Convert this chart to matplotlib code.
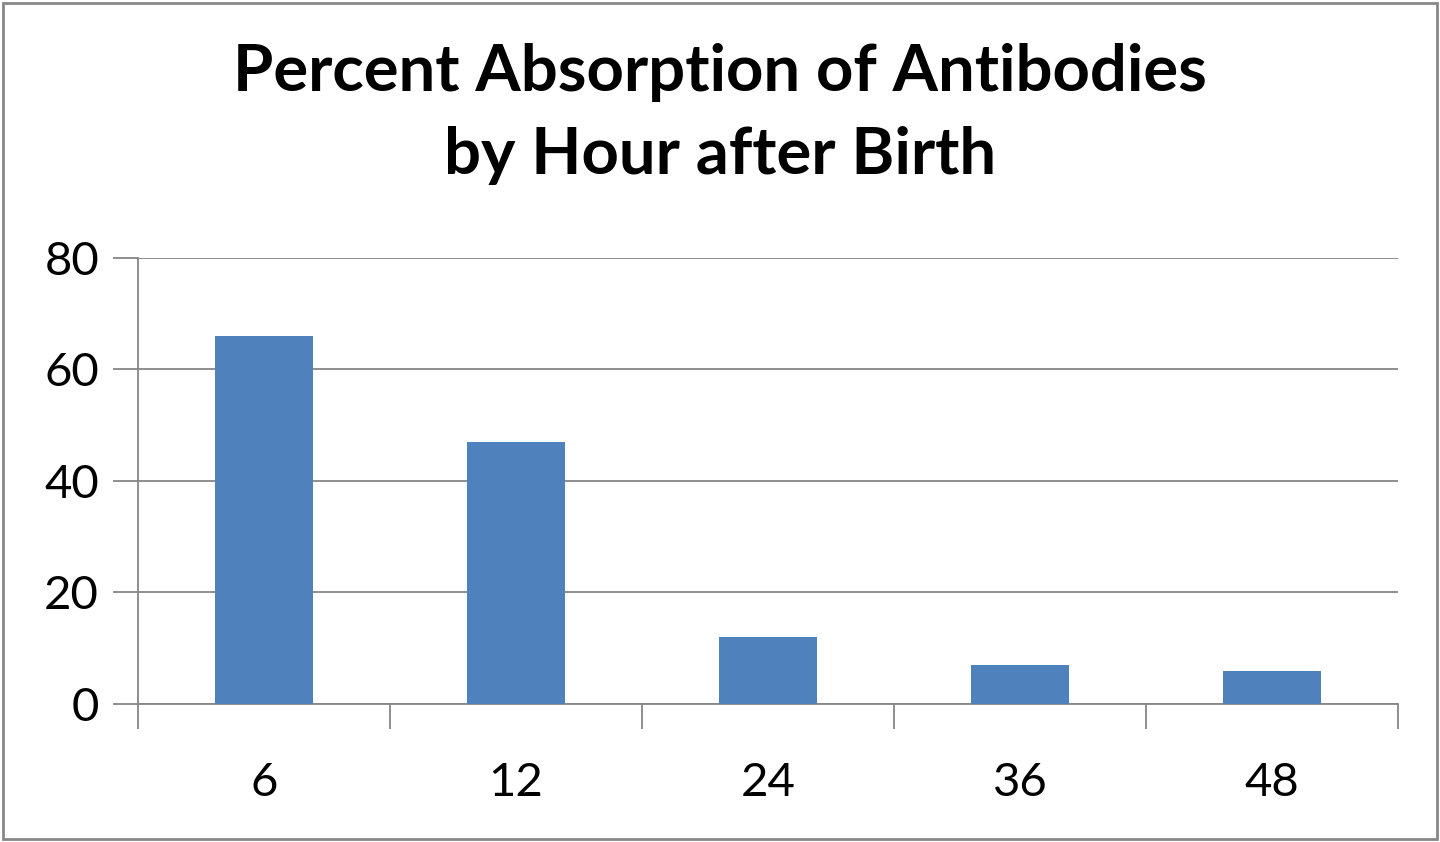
import matplotlib
matplotlib.use("Agg")
import matplotlib.pyplot as plt
from matplotlib.patches import Rectangle

categories = ["6", "12", "24", "36", "48"]
values = [66, 47, 12, 7, 6]

plt.rcParams['font.family'] = ['Lato', 'DejaVu Sans']
fig = plt.figure(figsize=(14.4, 8.42), dpi=100)
fig.patches.append(Rectangle((0.002, 0.003), 0.996, 0.994, transform=fig.transFigure,
                             fill=False, edgecolor='#888888', linewidth=2))
ax = fig.add_axes([0.0958, 0.1639, 0.875, 0.5297])
x = list(range(len(categories)))
ax.bar(x, values, width=0.39, color='#4F81BD', zorder=3)
ax.set_xlim(-0.5, 4.5)
ax.set_ylim(0, 80)
ax.set_yticks([0, 20, 40, 60, 80])
ax.yaxis.grid(True, color='#868686', linewidth=1.3, zorder=0)
for s in ['top', 'right']:
    ax.spines[s].set_visible(False)
for s in ['left', 'bottom']:
    ax.spines[s].set_color('#868686')
    ax.spines[s].set_linewidth(1.3)
ax.set_xticks([i - 0.5 for i in range(6)], minor=False)
ax.set_xticklabels([])
ax.set_xticks(x, minor=True)
ax.set_xticklabels(categories, minor=True, fontsize=34)
ax.tick_params(axis='x', which='major', length=18, width=1.3, color='#868686', direction='out')
ax.tick_params(axis='x', which='minor', length=0, pad=42)
ax.tick_params(axis='y', length=18, width=1.3, color='#868686', labelsize=34, pad=10)
fig.text(0.5, 0.865, "Percent Absorption of Antibodies\nby Hour after Birth",
         ha='center', va='center', fontsize=47, fontweight='bold', linespacing=1.5)
fig.savefig("out.png", dpi=100)
